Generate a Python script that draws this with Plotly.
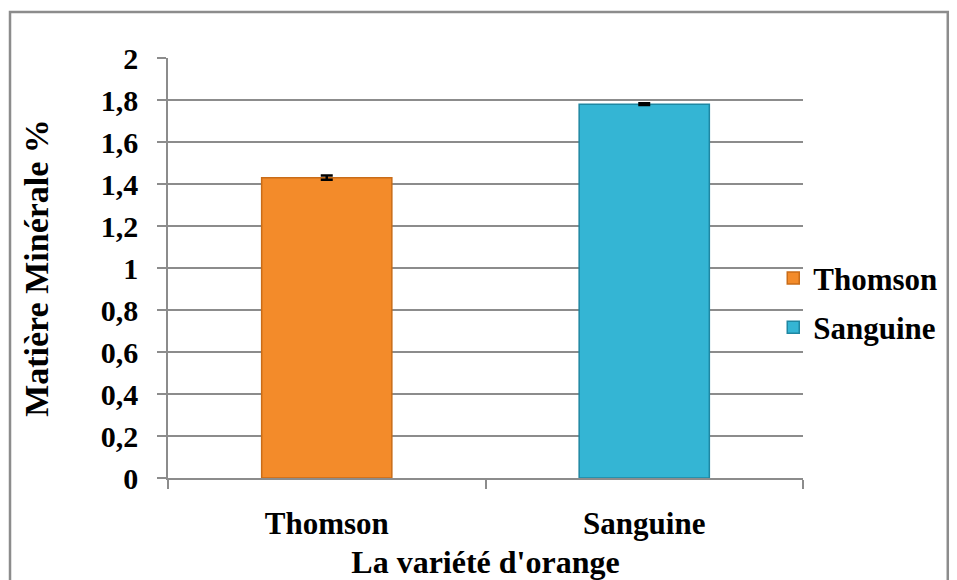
import plotly.graph_objects as go

# Mineral matter content by orange variety
varieties = ["Thomson", "Sanguine"]
mineral_pct = [1.43, 1.78]
mineral_err = [0.01, 0.004]
bar_colors = ["#F38B2A", "#34B5D4"]
edge_colors = ["#C96C18", "#1F87A2"]

y_ticks = [0, 0.2, 0.4, 0.6, 0.8, 1, 1.2, 1.4, 1.6, 1.8, 2]
y_tick_text = ["0", "0,2", "0,4", "0,6", "0,8", "1", "1,2", "1,4", "1,6", "1,8", "2"]

FONT = "Liberation Serif"


def bold(size):
    return dict(family=FONT, size=size, color="black", weight="bold")


fig = go.Figure()
for name, val, err, col, edge in zip(varieties, mineral_pct, mineral_err, bar_colors, edge_colors):
    fig.add_trace(go.Bar(
        x=[name], y=[val], name=name, legendgroup=name,
        marker=dict(color=col, line=dict(color=edge, width=1.5)),
        width=0.41,
        error_y=dict(type="data", array=[err], color="black", thickness=2.5, width=6),
    ))

fig.update_layout(
    width=957, height=580,
    margin=dict(l=168, r=154, t=58, b=102, autoexpand=False),
    paper_bgcolor="white", plot_bgcolor="white",
    barmode="overlay",
    font=bold(31),
    showlegend=True,
    legend=dict(
        xref="container", yref="container",
        x=0.808, y=0.478, xanchor="left", yanchor="middle",
        font=bold(31), tracegroupgap=6, itemwidth=30,
        bgcolor="rgba(0,0,0,0)",
    ),
    xaxis=dict(
        automargin=False,
        categoryorder="array", categoryarray=varieties,
        showline=True, linecolor="#8c8c8c", linewidth=1.5,
        ticks="outside", tickson="boundaries", ticklen=9, tickcolor="#8c8c8c", tickwidth=1.5,
        tickfont=bold(31), ticklabelstandoff=17,
        title=dict(text="La variété d'orange", font=bold(32), standoff=13),
        showgrid=False,
    ),
    yaxis=dict(
        automargin=False,
        range=[0, 2], tickvals=y_ticks, ticktext=y_tick_text,
        showline=True, linecolor="#8c8c8c", linewidth=1.5,
        ticks="outside", ticklen=9, tickcolor="#8c8c8c", tickwidth=1.5,
        showgrid=True, gridcolor="#8c8c8c", gridwidth=1.5,
        tickfont=bold(30), ticklabelstandoff=13,
        title=dict(text="Matière Minérale %", font=bold(34), standoff=42),
        zeroline=False,
    ),
    shapes=[dict(
        type="rect", xref="paper", yref="paper",
        x0=-0.2488, x1=1.228, y0=-0.3, y1=1.1095,
        line=dict(color="#8c8c8c", width=2.5), fillcolor="rgba(0,0,0,0)", layer="below",
    )],
)

fig.write_html("out.html")
